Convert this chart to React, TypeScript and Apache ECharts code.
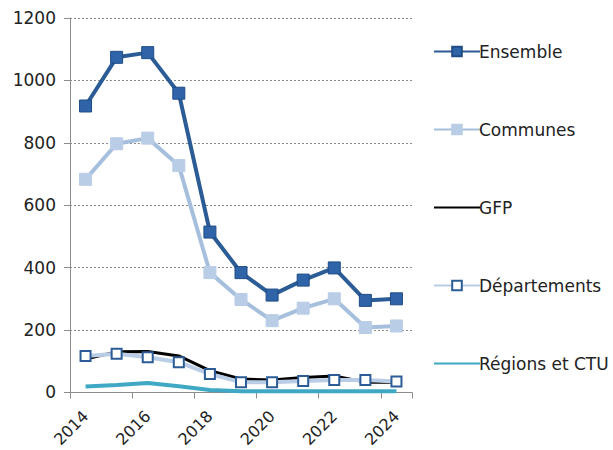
import React, { useEffect, useRef } from "react";
import * as echarts from "echarts";

const years = ["2014", "2015", "2016", "2017", "2018", "2019", "2020", "2021", "2022", "2023", "2024"];
const ensemble = [918, 1074, 1089, 959, 514, 384, 312, 360, 399, 295, 300];
const communes = [683, 797, 815, 727, 384, 298, 230, 270, 300, 208, 213];
const gfp = [107, 130, 131, 117, 70, 43, 40, 48, 53, 33, 33];
const departements = [117, 124, 113, 97, 59, 33, 33, 37, 40, 40, 35];
const regions = [19, 24, 30, 20, 8, 4, 4, 4, 4, 4, 4];

const FONT = "DejaVu Sans";

export default function App() {
  const ref = useRef<HTMLDivElement>(null);
  useEffect(() => {
    const chart = echarts.init(ref.current!, undefined, { renderer: "svg" });
    chart.setOption({
      animation: false,
      textStyle: { fontFamily: FONT },
      grid: { left: 70, right: 201, top: 18, bottom: 57, containLabel: false },
      legend: {
        orient: "vertical",
        left: 428,
        top: 38,
        itemWidth: 46,
        itemHeight: 12,
        itemGap: 61,
        textStyle: { fontSize: 17, color: "#222", fontFamily: FONT, padding: [0, 0, 0, -6] },
        data: [
          { name: "Ensemble" },
          { name: "Communes" },
          { name: "GFP", itemStyle: { opacity: 0 } },
          { name: "Départements" },
          { name: "Régions et CTU", itemStyle: { opacity: 0 } },
        ],
      },
      xAxis: {
        type: "category",
        data: years,
        boundaryGap: true,
        axisLine: { lineStyle: { color: "#8c8c8c", width: 1 } },
        axisTick: { show: true, length: 6, lineStyle: { color: "#8c8c8c" } },
        axisLabel: { rotate: 45, interval: 1, fontSize: 16, color: "#222", margin: 21, fontFamily: FONT },
        splitLine: { show: false },
      },
      yAxis: {
        type: "value",
        min: 0,
        max: 1200,
        interval: 200,
        axisLine: { show: true, lineStyle: { color: "#8c8c8c", width: 1 } },
        axisTick: { show: true, length: 6, lineStyle: { color: "#8c8c8c" } },
        axisLabel: { fontSize: 17, color: "#222", margin: 14, fontFamily: FONT, formatter: (v: number) => String(v) },
        splitLine: { show: true, lineStyle: { color: "#8a8a8a", type: [2, 2], width: 1.2 } },
      },
      series: [
        {
          name: "Ensemble",
          type: "line",
          data: ensemble,
          symbol: "rect",
          symbolSize: 12,
          lineStyle: { color: "#2C5C96", width: 4 },
          itemStyle: { color: "#2F64A8", borderColor: "#1F4C86", borderWidth: 1 },
          z: 6,
        },
        {
          name: "Communes",
          type: "line",
          data: communes,
          symbol: "rect",
          symbolSize: 12,
          lineStyle: { color: "#A6BFDD", width: 4 },
          itemStyle: { color: "#B9CDE6", borderColor: "#B9CDE6", borderWidth: 1 },
          z: 5,
        },
        {
          name: "GFP",
          type: "line",
          data: gfp,
          symbol: "none",
          lineStyle: { color: "#000000", width: 3 },
          itemStyle: { color: "#000000" },
          z: 3,
        },
        {
          name: "Départements",
          type: "line",
          data: departements,
          symbol: "rect",
          symbolSize: 10,
          lineStyle: { color: "#B9CDE6", width: 4 },
          itemStyle: { color: "#ffffff", borderColor: "#2C5C96", borderWidth: 2 },
          z: 4,
        },
        {
          name: "Régions et CTU",
          type: "line",
          data: regions,
          symbol: "none",
          lineStyle: { color: "#3FA8C4", width: 4 },
          itemStyle: { color: "#3FA8C4" },
          z: 2,
        },
      ],
    });
    return () => chart.dispose();
  }, []);
  return <div ref={ref} style={{ width: 613, height: 450, position: "absolute", left: 0, top: 0 }} />;
}
